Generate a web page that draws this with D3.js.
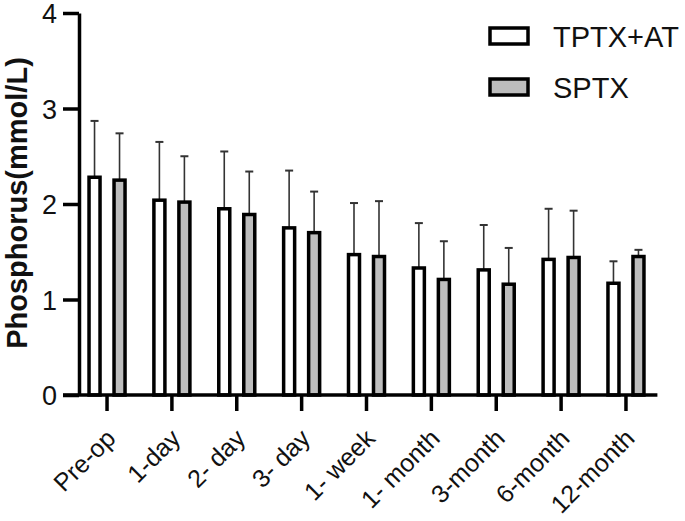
<!DOCTYPE html>
<html>
<head>
<meta charset="utf-8">
<script src="https://cdn.jsdelivr.net/npm/d3@7"></script>
<style>
  body { margin: 0; background: #fff; }
  svg { font-family: "Liberation Sans", Arial, sans-serif; }
</style>
</head>
<body>
<div class="barchart"></div>
<script>
// data
const categories = ["Pre-op", "1-day", "2- day", "3- day", "1- week", "1- month", "3-month", "6-month", "12-month"];
const seriesNames = ["TPTX+AT", "SPTX"];
const tptxMean = [2.28, 2.04, 1.95, 1.75, 1.47, 1.33, 1.31, 1.42, 1.17];
const tptxUpper = [2.87, 2.65, 2.55, 2.35, 2.01, 1.80, 1.78, 1.95, 1.40];
const sptxMean = [2.25, 2.02, 1.89, 1.70, 1.45, 1.21, 1.16, 1.44, 1.45];
const sptxUpper = [2.74, 2.50, 2.34, 2.13, 2.03, 1.61, 1.54, 1.93, 1.52];
const yTicks = [0, 1, 2, 3, 4];
const fills = ["#ffffff", "#bdbdbd"];

const W = 685, H = 521;
const svg = d3.select(".barchart").append("svg")
    .attr("width", W)
    .attr("height", H);

// scales
const y = d3.scaleLinear().domain([0, 4]).range([395, 13]);
const x0 = d3.scaleBand().domain(categories).range([74.6, 658.4]).padding(0);
const x1 = d3.scaleBand().domain(seriesNames)
    .range([x0.bandwidth() / 2 - 25, x0.bandwidth() / 2 + 25]);
const barW = 11;
const axisX = 79;

// rows
const rows = categories.map((c, i) => ({
    cat: c,
    vals: [
        {s: seriesNames[0], mean: tptxMean[i], up: tptxUpper[i], fill: fills[0]},
        {s: seriesNames[1], mean: sptxMean[i], up: sptxUpper[i], fill: fills[1]}
    ]
}));

// y axis
const yAxis = svg.append("g")
    .attr("transform", "translate(" + axisX + ",0)")
    .call(d3.axisLeft(y).tickValues(yTicks).tickSize(16).tickSizeOuter(0).tickPadding(6).tickFormat(d3.format("d")));
yAxis.select(".domain").attr("stroke", "#000").attr("stroke-width", 3.5);
yAxis.selectAll(".tick line").attr("stroke", "#000").attr("stroke-width", 3.5);
yAxis.selectAll(".tick text")
    .attr("fill", "#111")
    .style("font-size", "27px")
    .attr("dy", "0.36em");

// groups of bars
const groups = svg.selectAll(".grp")
    .data(rows)
    .enter().append("g")
    .attr("class", "grp")
    .attr("transform", d => "translate(" + x0(d.cat) + ",0)");

// error bars (upward only)
groups.selectAll(".err")
    .data(d => d.vals)
    .enter().append("line")
    .attr("class", "err")
    .attr("x1", d => x1(d.s) + x1.bandwidth() / 2)
    .attr("x2", d => x1(d.s) + x1.bandwidth() / 2)
    .attr("y1", d => y(d.mean))
    .attr("y2", d => y(d.up))
    .attr("stroke", "#333")
    .attr("stroke-width", 1.6);

groups.selectAll(".cap")
    .data(d => d.vals)
    .enter().append("line")
    .attr("class", "cap")
    .attr("x1", d => x1(d.s) + x1.bandwidth() / 2 - 4)
    .attr("x2", d => x1(d.s) + x1.bandwidth() / 2 + 4)
    .attr("y1", d => y(d.up))
    .attr("y2", d => y(d.up))
    .attr("stroke", "#333")
    .attr("stroke-width", 2);

groups.selectAll(".bar")
    .data(d => d.vals)
    .enter().append("rect")
    .attr("class", "bar")
    .attr("x", d => x1(d.s) + (x1.bandwidth() - barW) / 2)
    .attr("width", barW)
    .attr("y", d => y(d.mean))
    .attr("height", d => y(0) - y(d.mean))
    .attr("fill", d => d.fill)
    .attr("stroke", "#000")
    .attr("stroke-width", 3.5);

// x axis
const xAxis = svg.append("g")
    .attr("transform", "translate(0," + y(0) + ")")
    .call(d3.axisBottom(x0).tickSize(16).tickSizeOuter(0).tickPadding(0));
xAxis.select(".domain").remove();
xAxis.append("line")
    .attr("x1", axisX - 16)
    .attr("x2", x0.range()[1] - 1)
    .attr("stroke", "#000")
    .attr("stroke-width", 3.5);
xAxis.selectAll(".tick line").attr("stroke", "#000").attr("stroke-width", 3.5);
xAxis.selectAll(".tick text")
    .attr("fill", "#111")
    .style("font-size", "25px")
    .attr("text-anchor", "end")
    .attr("dy", 0)
    .attr("y", 0)
    .attr("transform", "translate(10,45) rotate(-45)");

// y title
svg.append("text")
    .attr("transform", "translate(27," + (y(2) - 1) + ") rotate(-90)")
    .attr("text-anchor", "middle")
    .style("font-size", "29px")
    .style("font-weight", "bold")
    .attr("fill", "#111")
    .text("Phosphorus(mmol/L)");

// legend
const legend = svg.selectAll(".leg")
    .data(seriesNames)
    .enter().append("g")
    .attr("class", "leg")
    .attr("transform", (d, i) => "translate(490," + (28 + i * 51) + ")");
legend.append("rect")
    .attr("width", 38)
    .attr("height", 16)
    .attr("fill", (d, i) => fills[i])
    .attr("stroke", "#000")
    .attr("stroke-width", 3.5);
legend.append("text")
    .attr("x", 63)
    .attr("y", 19)
    .style("font-size", "29px")
    .attr("fill", "#111")
    .text(d => d);
</script>
</body>
</html>
